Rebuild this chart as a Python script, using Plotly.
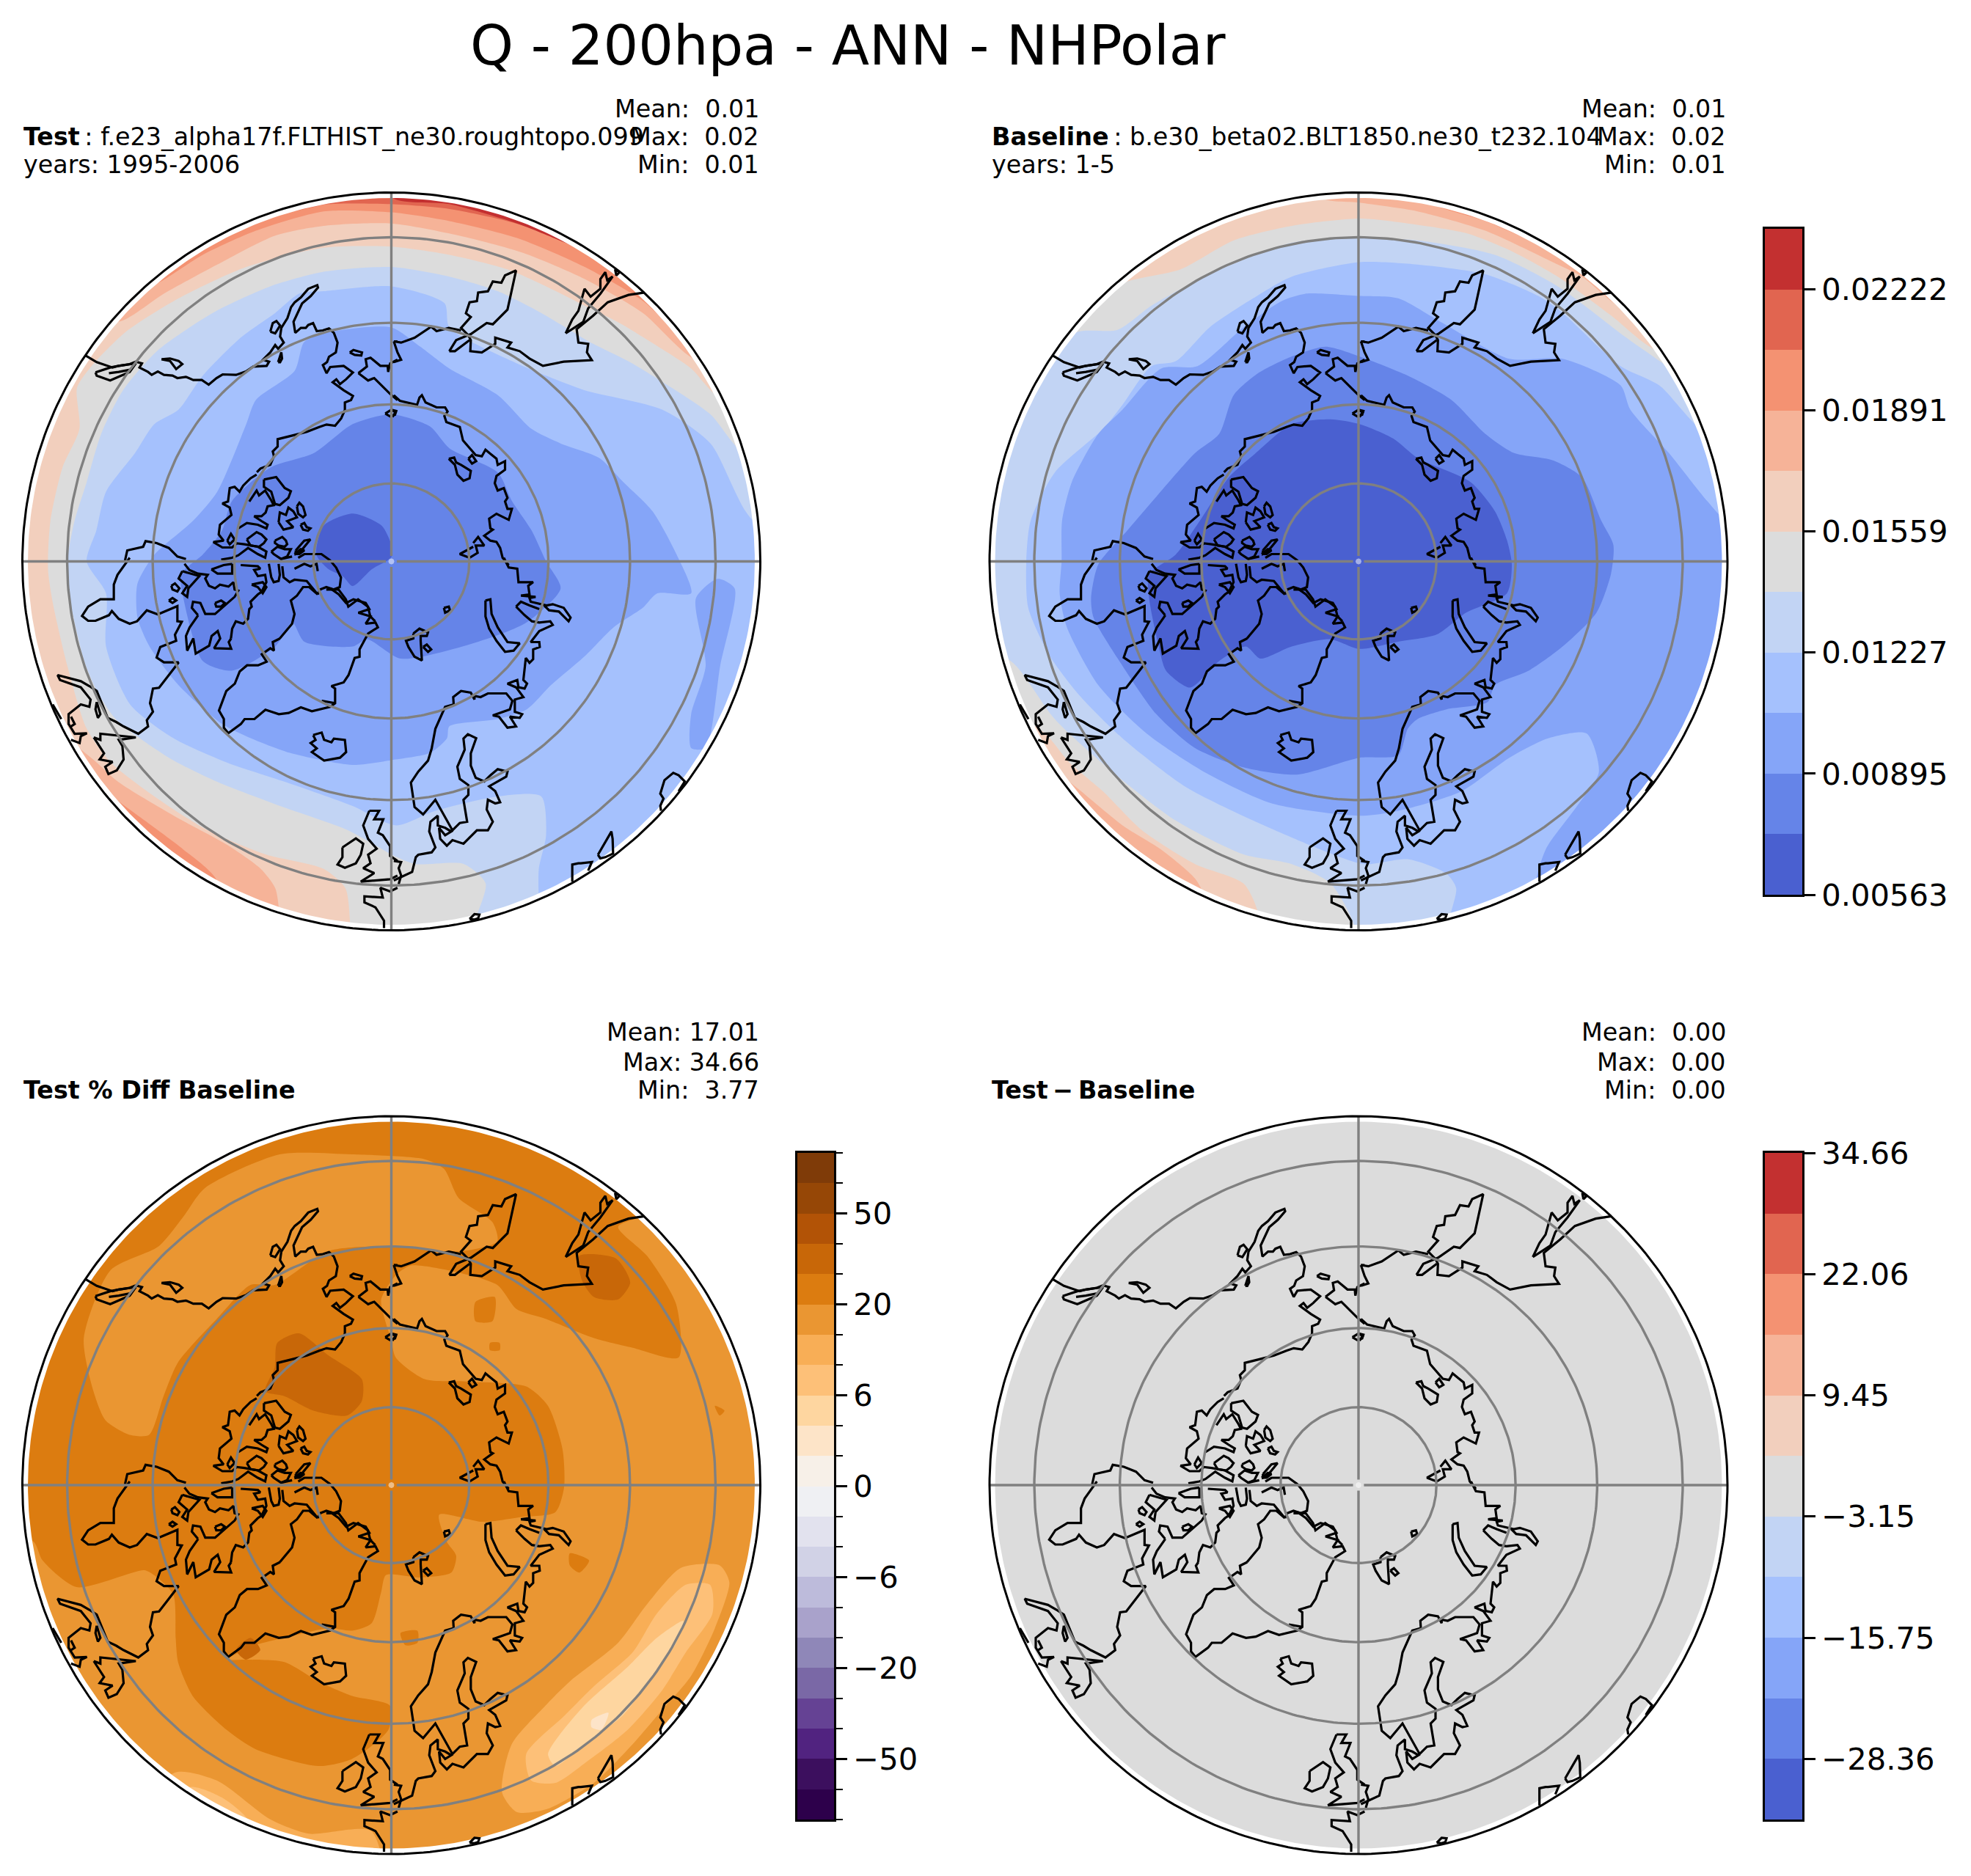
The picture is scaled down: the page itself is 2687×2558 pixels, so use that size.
import numpy as np
import plotly.graph_objects as go

W, H = 2687, 2558
TITLE = "Q - 200hpa - ANN - NHPolar"

# ---- colour bands (low to high) ----
COOLWARM = ["#4a60d0", "#6584e8", "#85a5f8", "#a5c1fd", "#c2d4f4", "#dcdcdc",
            "#f2cfbd", "#f6b398", "#f49272", "#e16550", "#c33030"]
PUOR = ["#2d004b", "#3c0f5e", "#512380", "#654294", "#7a68a6", "#8f87b8", "#a9a2cb",
        "#bdbbdb", "#d1d2e6", "#e2e2ee", "#eff0f3", "#f7f0e8", "#fde4c8", "#fed6a0",
        "#fdc078", "#f8ae56", "#ea9632", "#dc7c10", "#c86708", "#b25306", "#964706", "#7f3b08"]
Q_TICK_POS = [0, 2, 4, 6, 8, 10]
Q_TICK_TXT = ["0.00563", "0.00895", "0.01227", "0.01559", "0.01891", "0.02222"]
PCT_TICK_POS = [2, 5, 8, 11, 14, 17, 20]
PCT_TICK_TXT = ["\u221250", "\u221220", "\u22126", "0", "6", "20", "50"]
DIFF_TICK_POS = [1, 3, 5, 7, 9, 11]
DIFF_TICK_TXT = ["\u221228.36", "\u221215.75", "\u22123.15", "9.45", "22.06", "34.66"]

# ---- latitude rings and meridians of the map ----
RING_LATS = [80, 70, 60, 50]
EDGE_LAT = 45
POLE_GAP_LAT = 89.3

# ---- contour outlines, digitised (col, row) on a map whose pole is at FRAME_* ----
FRAME_TEST = (780, 784, 763)
T6 = [(1460,445),(1400,385),(1340,345),(1250,290),(1180,255),(1100,215),(1020,180),(900,150),(780,133),(640,135),(480,175),(340,240),(230,310),(160,380),(130,425),(135,510),(100,590),(75,700),(70,800),(80,870),(110,1000),(150,1130),(200,1200),(290,1270),(400,1340),(520,1390),(640,1420),(685,1460),(695,1535),(700,1650),(-100,1650),(-100,-100),(1650,-100),(1650,445)]
T7a = [(1415,370),(1300,270),(1180,200),(1050,145),(920,110),(780,85),(640,90),(540,110),(420,170),(310,230),(215,288),(150,250),(150,-100),(1650,-100),(1650,370)]
T7b = [(100,1150),(165,1195),(215,1240),(330,1310),(440,1370),(510,1420),(540,1460),(548,1510),(548,1650),(-100,1650),(-100,1150)]
T8a = [(1400,330),(1300,245),(1180,175),(1040,115),(900,80),(780,62),(640,60),(500,100),(390,150),(300,207),(200,250),(200,-100),(1650,-100),(1650,330)]
T8b = [(150,1220),(190,1260),(270,1320),(350,1380),(420,1445),(440,1650),(-100,1650),(-100,1220)]
T9 = [(1330,230),(1250,190),(1130,115),(1020,80),(900,55),(780,45),(650,45),(560,60),(500,20),(500,-100),(1650,-100),(1650,230)]
T10 = [(1245,170),(1140,125),(1040,85),(900,45),(780,30),(780,-100),(1650,-100),(1650,170)]
T4 = [(1510,560),(1440,480),(1360,425),(1270,370),(1190,330),(1090,270),(1000,225),(900,195),(780,175),(640,185),(530,215),(420,265),(300,345),(225,430),(180,520),(150,620),(125,700),(110,784),(115,860),(145,990),(170,1050),(210,1110),(320,1190),(420,1240),(550,1290),(690,1340),(790,1395),(830,1410),(930,1410),(975,1450),(950,1540),(950,1650),(1650,1650),(1650,560)]
T3 = [(1650,700),(1530,700),(1440,540),(1340,470),(1180,430),(1100,400),(1030,370),(900,300),(890,250),(780,215),(640,225),(590,230),(540,270),(470,320),(390,400),(340,470),(290,500),(250,560),(190,640),(170,720),(150,784),(190,850),(190,960),(240,1080),(330,1150),(440,1200),(560,1240),(700,1290),(790,1330),(870,1300),(1000,1270),(1090,1270),(1100,1350),(1085,1420),(1085,1500),(1085,1650),(1650,1650)]
T2 = [(780,300),(840,340),(900,385),(1000,440),(1070,510),(1130,540),(1210,570),(1260,620),(1320,680),(1370,770),(1400,850),(1330,850),(1300,880),(1240,920),(1180,980),(1110,1040),(1060,1090),(1000,1110),(900,1125),(895,1150),(860,1180),(780,1195),(700,1205),(570,1180),(490,1150),(430,1120),(340,1040),(280,960),(255,900),(255,830),(290,770),(370,700),(420,640),(480,500),(500,450),(580,390),(600,330),(650,310)]
T2b = [(1410,860),(1455,820),(1490,840),(1460,1000),(1430,1170),(1400,1170),(1400,1100),(1430,1000)]
T1 = [(780,480),(860,505),(900,550),(1000,600),(1030,660),(1070,720),(1100,784),(1130,840),(1060,910),(960,950),(800,985),(730,945),(700,960),(600,950),(575,910),(540,960),(450,1010),(390,990),(350,860),(345,810),(390,770),(430,720),(450,660),(530,590),(620,560),(700,500)]
T0 = [(640,710),(700,685),(760,710),(780,750),(780,775),(740,800),(700,835),(680,815),(650,800),(625,770)]
TEST_LAYERS = [(6,T6),(7,T7a),(7,T7b),(8,T8a),(8,T8b),(9,T9),(10,T10),(4,T4),(3,T3),(2,T2),(2,T2b),(1,T1),(0,T0)]

FRAME_BASE = (778, 784, 763)
B6a = [(1400,350),(1300,275),(1190,195),(1090,140),(1000,105),(880,85),(780,75),(640,90),(520,120),(410,180),(300,205),(200,250),(200,-100),(1650,-100),(1650,350)]
B6b = [(60,1100),(130,1140),(180,1200),(250,1260),(330,1340),(440,1410),(540,1450),(570,1510),(570,1650),(-100,1650),(-100,1100)]
B7a = [(1340,270),(1240,195),(1180,165),(1040,100),(900,60),(780,42),(700,30),(700,-100),(1650,-100),(1650,270)]
B7b = [(120,1200),(180,1240),(290,1330),(370,1380),(440,1440),(460,1480),(460,1650),(-100,1650),(-100,1200)]
B8 = [(930,45),(1040,80),(1150,125),(1200,130),(1040,40)]
B4 = [(1485,480),(1450,410),(1330,320),(1190,215),(1060,150),(900,120),(780,115),(640,125),(470,190),(350,255),(280,305),(195,310),(100,400),(-50,700),(-50,900),(70,1000),(150,1110),(270,1220),(400,1320),(540,1390),(640,1410),(720,1450),(770,1540),(770,1650),(1650,1650),(1650,480)]
B3 = [(1650,520),(1500,520),(1400,420),(1320,380),(1200,270),(1150,235),(1040,190),(900,170),(780,165),(640,195),(560,240),(470,300),(400,370),(350,380),(290,460),(250,510),(150,600),(100,700),(91,784),(95,880),(140,980),(200,1060),(290,1150),(420,1250),(560,1320),(700,1380),(790,1410),(880,1400),(960,1430),(980,1460),(965,1530),(965,1650),(1650,1650)]
B2 = [(1650,700),(1540,700),(1500,660),(1420,560),(1340,470),(1320,420),(1200,365),(1090,365),(950,290),(860,240),(780,235),(670,230),(620,245),(540,300),(445,380),(370,385),(290,470),(240,520),(185,620),(165,700),(164,784),(160,850),(175,920),(240,1040),(340,1140),(460,1220),(600,1285),(780,1310),(860,1300),(990,1260),(1090,1190),(1170,1150),(1250,1140),(1275,1220),(1230,1290),(1165,1380),(1140,1470),(1140,1650),(1650,1650)]
B1 = [(780,360),(880,400),(970,450),(1040,520),(1100,560),(1180,575),(1240,610),(1280,700),(1305,750),(1300,810),(1270,890),(1200,960),(1130,1010),(1060,1040),(1045,1075),(960,1090),(900,1110),(880,1130),(860,1185),(780,1190),(650,1225),(540,1210),(440,1170),(360,1100),(290,1000),(230,900),(225,860),(240,790),(300,720),(360,650),(440,560),(490,520),(520,440),(570,395),(640,360),(710,340)]
B0 = [(780,500),(850,530),(900,570),(1010,620),(1060,680),(1085,740),(1095,790),(1085,850),(1000,890),(940,935),(860,950),(780,965),(720,945),(640,960),(575,985),(545,960),(490,990),(430,1045),(380,1010),(365,960),(345,860),(345,810),(400,770),(450,700),(510,610),(560,565),(640,500),(720,490)]
BASE_LAYERS = [(6,B6a),(6,B6b),(7,B7a),(7,B7b),(8,B8),(4,B4),(3,B3),(2,B2),(1,B1),(0,B0)]

FRAME_PCT = (781, 784, 763)
PCT_BASE_BAND = 17
PA = [(145,480),(200,340),(300,290),(350,230),(395,170),(550,100),(700,100),(850,110),(890,130),(920,190),(990,240),(1000,280),(930,300),(880,300),(780,290),(650,300),(540,370),(490,370),(420,440),(340,530),(310,600),(280,680),(240,680),(190,650),(165,590)]
PB = [(780,480),(790,520),(850,565),(940,570),(1060,580),(1105,620),(1135,710),(1138,790),(1120,840),(1050,850),(970,860),(880,845),(895,900),(915,930),(905,965),(840,975),(770,970),(760,1005),(740,1070),(700,1085),(650,1080),(560,1100),(500,1115),(440,1145),(480,1145),(560,1150),(630,1190),(700,1220),(778,1240),(775,1290),(700,1350),(630,1365),(500,1330),(440,1290),(370,1220),(340,1150),(335,1100),(330,1010),(290,970),(270,960),(130,995),(60,940),(40,900),(-50,900),(-50,1650),(1650,1650),(1650,100),(1310,225),(1250,250),(1310,310),(1370,410),(1375,520),(1280,500),(1200,480),(1100,440),(1040,420),(1000,370),(900,340),(820,330),(790,350),(760,400),(770,450)]
PC1 = [(545,490),(590,470),(650,515),(720,565),(720,610),(690,640),(620,630),(560,600),(520,590),(540,540)]
PC2 = [(1170,310),(1245,315),(1275,365),(1250,400),(1200,395),(1175,360)]
PC3 = [(460,1125),(490,1100),(510,1125),(480,1145)]
PD1 = [(1150,925),(1190,940),(1170,965),(1150,950)]
PD2 = [(955,405),(995,395),(990,445),(955,445)]
PD3 = [(985,490),(1005,490),(1005,505),(985,505)]
PD4 = [(1450,620),(1470,630),(1460,640)]
PD5 = [(800,1090),(835,1085),(835,1110),(810,1115)]
PL1 = [(1030,1320),(1100,1240),(1150,1190),(1250,1110),(1310,1030),(1380,955),(1460,950),(1480,985),(1450,1080),(1400,1180),(1340,1250),(1280,1320),(1200,1400),(1100,1455),(1040,1460),(1010,1420)]
PL2 = [(1060,1340),(1140,1260),(1200,1200),(1280,1130),(1330,1050),(1390,990),(1440,990),(1445,1050),(1390,1130),(1340,1210),(1270,1290),(1180,1360),(1120,1400),(1070,1395)]
PL3 = [(1105,1340),(1180,1240),(1270,1160),(1330,1100),(1385,1065),(1370,1110),(1320,1180),(1260,1260),(1180,1320),(1120,1365)]
PL4 = [(1195,1270),(1230,1255),(1215,1290),(1195,1285)]
PL5 = [(330,1380),(420,1395),(530,1475),(610,1505),(740,1500),(760,1650),(200,1650)]
PL6 = [(360,1410),(430,1430),(490,1485),(480,1650),(300,1650)]
PCT_LAYERS = [(16,PA),(16,PB),(18,PC1),(18,PC2),(18,PC3),(17,PD1),(17,PD2),(17,PD3),(17,PD4),(17,PD5),
              (15,PL1),(14,PL2),(13,PL3),(12,PL4),(15,PL5),(14,PL6)]

# ---- coastlines, digitised per map quadrant: (pole col, pole row, edge radius) ----
COAST_R = 1509
FRAME_NW = (1535, 1545)
FRAME_NE = (5, 1545)
FRAME_SW = (1535, 15)
FRAME_SE = (5, 15)
FRAME_MID = (876, 375)

COAST_NW = [
 [(285,703),(330,730),(395,752),(420,745),(465,738),(490,728),(515,735),(505,752),(540,770),(555,782),(580,768),(605,782),(640,785),(660,795),(695,790),(725,803),(760,803),(788,822),(820,795),(845,780),(900,782),(940,768),(970,748),(1025,745),(1035,728),(1010,720),(1040,690),(1060,660),(1072,675),(1095,650),(1080,625),(1085,590),(1110,550),(1125,505),(1140,485),(1165,465),(1195,430),(1232,415),(1235,425),(1205,460),(1170,490),(1150,530),(1135,565),(1142,610),(1165,590),(1185,590),(1195,578),(1215,570),(1230,603),(1255,600),(1280,592),(1300,610),(1315,650),(1308,690),(1280,708),(1272,730),(1255,742),(1270,775),(1285,750),(1340,745),(1378,772),(1350,800),(1325,820),(1310,800),(1295,812),(1340,845),(1378,868),(1370,885),(1345,895),(1345,925),(1330,960),(1305,990),(1270,985),(1240,995),(1190,1015),(1130,1030),(1070,1045),(1070,1075),(1050,1095),(1055,1115),(1040,1150),(1000,1165),(985,1180)],
 [(1040,605),(1050,570),(1065,562),(1080,580),(1060,612),(1040,605)],
 [(595,718),(630,715),(665,725),(680,738),(655,758),(630,725),(595,718)],
 [(1072,730),(1085,690),(1088,715),(1080,730),(1072,730)],
 [(1365,690),(1380,680),(1415,690),(1412,703),(1385,700),(1365,690)],
 [(1400,775),(1435,748),(1430,718),(1450,712),(1490,745),(1520,745),(1522,770),(1530,735),(1560,720)],
 [(1400,775),(1440,805),(1465,795),(1530,860),(1560,885)],
 [(1545,645),(1560,645)],
 [(1510,940),(1535,925),(1555,930),(1550,945),(1530,952),(1510,940)],
 [(325,772),(385,752),(420,745),(490,735),(465,770),(420,790),(385,805),(330,785),(325,772)],
 [(380,775),(420,770),(470,760)],
 [(445,1545),(455,1500),(520,1485),(530,1462),(575,1470),(625,1490),(660,1525),(695,1535)],
]
COAST_NE = [
 [(15,645),(45,650),(100,630),(168,585),(190,603),(240,590),(290,600)],
 [(15,645),(30,690),(45,720),(15,730)],
 [(242,685),(270,640),(330,615),(395,570),(420,575),(480,515),(490,470),(515,355),(470,375),(455,405),(420,400),(400,440),(360,445),(355,480),(325,485),(310,530),(330,545),(290,590),(320,620),(330,640),(328,685),(375,690),(430,655),(430,630),(495,650),(480,670),(530,685),(570,715),(625,745),(710,728),(825,722),(805,690),(810,655),(770,650),(763,595),(830,540),(890,485),(975,455),(1040,445)],
 [(242,685),(265,685),(325,640)],
 [(718,612),(745,555),(770,520),(795,430),(820,462),(860,430),(860,390),(880,362),(888,395),(910,380),(860,450),(810,510),(790,565),(735,600),(718,612)],
 [(920,350),(938,362),(925,375),(920,350)],
 [(15,865),(40,888),(110,905),(120,875),(130,865),(145,895),(190,915),(225,915),(235,932),(222,950),(230,975),(285,995),(298,1050),(350,1110),(375,1115),(390,1088),(410,1105),(435,1125),(440,1150),(470,1135),(470,1170),(435,1195),(428,1225),(440,1255),(465,1245),(480,1285),(470,1300),(480,1330),(498,1330),(485,1375),(435,1350),(405,1370),(410,1410),(420,1415),(385,1440),(410,1460),(435,1465),(450,1490),(460,1530),(485,1560)],
 [(240,1125),(262,1120),(270,1140),(290,1150),(330,1175),(325,1205),(300,1215),(275,1190),(265,1150),(240,1125)],
 [(320,1125),(335,1110),(352,1135),(335,1145),(320,1125)],
 [(340,1470),(360,1445),(385,1480),(350,1480),(358,1510),(325,1530),(285,1515),(340,1485)],
 [(5,925),(22,935),(12,950),(5,945)],
]
COAST_SW = [
 [(465,0),(415,70),(400,110),(400,170),(345,170),(295,200),(270,238),(295,258),(325,258),(380,235),(392,218),(420,250),(465,270),(495,260),(535,215),(580,232),(660,198),(660,260),(678,262),(650,315),(655,340),(590,365),(583,385),(575,408),(605,428),(665,428),(585,532),(560,535),(548,595),(560,630),(535,665),(540,690),(500,720),(440,690),(410,672),(375,655),(330,545),(300,525),(265,505),(170,480),(180,500),(265,530),(305,580),(300,610),(265,600),(215,640),(215,680),(240,720),(290,718),(265,730),(260,758),(225,745)],
 [(330,590),(345,640),(335,655),(325,620),(330,590)],
 [(150,600),(185,660)],
 [(225,650),(240,680),(225,690)],
 [(318,735),(345,745),(345,720),(420,728),(490,735),(420,745),(435,770),(440,825),(412,870),(378,885),(365,855),(395,835),(342,825),(360,800),(318,735)],
 [(680,55),(750,75),(705,125),(700,160),(680,145),(700,115),(665,85),(680,55)],
 [(635,115),(650,105),(668,125),(660,138),(640,130),(635,115)],
 [(625,175),(640,165),(655,175),(640,185),(625,175)],
 [(880,330),(870,345),(880,372),(810,370),(835,330),(825,300),(800,320),(790,360),(735,392),(725,330),(700,380),(695,320),(710,285),(745,235)],
 [(1080,330),(1050,345),(1055,380),(1040,370),(1005,395),(1025,425),(990,440),(945,440),(915,465),(895,515),(860,545),(830,625),(850,660),(850,695),(868,718),(920,680),(935,660),(975,660),(1020,622),(1075,640),(1115,635),(1165,612),(1210,628),(1285,610),(1305,595),(1305,535),(1290,525),(1340,510),(1360,480),(1385,410),(1405,405),(1405,375),(1440,310),(1480,285),(1470,265),(1430,270),(1450,240),(1400,225),(1445,210),(1430,185),(1380,170),(1350,185),(1320,150),(1285,125)],
 [(1250,585),(1280,590),(1305,595)],
 [(1215,725),(1250,715),(1260,745),(1290,755),(1300,740),(1345,745),(1350,795),(1325,818),(1260,830),(1210,795),(1230,780),(1205,758),(1225,745),(1215,725)],
 [(1335,1185),(1390,1148),(1420,1170),(1410,1215),(1390,1250),(1345,1268),(1315,1255),(1335,1225),(1335,1185)],
 [(1445,1035),(1485,1035),(1465,1070),(1502,1070),(1490,1100),(1480,1125),(1500,1135),(1530,1180),(1530,1220),(1560,1240)],
 [(1445,1035),(1420,1095),(1440,1150),(1475,1190),(1440,1215),(1450,1250),(1420,1270),(1465,1290),(1410,1325),(1465,1320),(1530,1315),(1560,1300)],
 [(1560,1350),(1530,1365),(1490,1350),(1500,1390),(1425,1385),(1425,1410),(1470,1430),(1505,1485),(1505,1515)],
]
COAST_SE = [
 [(465,0),(485,40),(520,45),(525,100),(585,100),(565,115),(570,150),(535,155),(595,160),(570,165),(575,180),(640,195),(665,190),(710,205),(738,245),(730,260),(690,220),(650,215),(630,195)],
 [(515,200),(535,180),(570,195),(610,210)],
 [(515,200),(550,235),(580,260),(610,265),(655,260),(665,275),(610,300),(575,345),(610,345),(612,365),(585,375),(585,415),(570,430),(555,410),(545,500),(560,515),(550,535),(525,530),(520,500),(480,515),(515,530),(545,570),(510,580),(510,630),(540,640),(530,655),(490,650),(515,690),(480,695),(445,650),(420,645),(490,620),(500,585),(475,555),(400,555),(370,570),(345,565),(345,580),(330,552),(290,545),(258,570),(260,600),(225,610),(185,700),(170,780),(155,830),(115,875),(85,920),(100,1020),(135,1050),(185,990),(255,1115),(285,1085),(315,1080),(300,990),(320,970),(320,930),(285,905),(275,855),(305,785),(300,740),(318,722),(352,738),(330,800),(330,850),(350,900),(385,915),(410,890),(440,865),(480,875),(475,895),(405,935),(430,955),(450,1000),(430,1005),(400,990),(395,1030),(420,1080),(400,1115),(355,1115),(300,1170),(255,1155),(232,1178),(205,1150),(200,1105),(225,1135),(250,1120),(225,1105),(195,1095),(195,1055),(165,1080),(160,1120),(185,1185),(170,1205),(115,1215),(105,1225),(90,1285),(35,1310),(15,1320)],
 [(15,1240),(45,1245),(35,1270),(45,1300),(35,1335)],
 [(390,175),(410,170),(415,230),(440,285),(480,345),(530,350),(505,380),(470,385),(435,340),(405,290),(390,240),(390,175)],
 [(95,310),(120,290),(155,305),(150,320),(125,320),(125,340),(130,420),(100,405),(75,365),(65,340),(95,330),(95,310)],
 [(135,365),(150,355),(168,375),(155,385),(135,365)],
 [(220,205),(240,200),(245,215),(225,225),(220,205)],
 [(1108,1035),(1105,1015),(1118,985),(1105,965),(1122,910),(1158,880),(1180,890),(1205,915),(1180,955)],
 [(745,1325),(745,1255),(770,1250),(780,1250),(825,1245),(810,1280)],
 [(850,1215),(880,1165),(905,1120),(910,1150),(912,1210),(880,1225),(860,1230),(850,1215)],
 [(325,1478),(345,1458),(365,1460),(360,1475),(345,1480),(325,1478)],
]
COAST_MID = [
 [(325,20),(300,35),(270,65),(255,90),(235,70),(215,75),(208,130),(185,138),(215,155),(222,185),(175,225),(170,265),(190,290),(148,296),(185,318),(225,318),(245,300)],
 [(205,290),(220,262),(235,285),(215,305),(205,290)],
 [(355,40),(405,30),(440,75),(465,88),(455,115),(420,145),(400,140),(385,90),(355,70),(355,40)],
 [(295,130),(325,85),(335,105),(360,85),(385,125),(395,145),(370,150),(362,175),(345,190),(315,190),(345,210),(370,225),(365,240),(330,225),(285,218),(250,240)],
 [(285,285),(325,255),(345,265),(365,285),(355,300),(335,315),(300,310),(285,285)],
 [(235,300),(275,305),(330,315),(365,335),(360,360),(330,345),(290,320),(250,350),(225,360),(180,368)],
 [(415,215),(420,175),(445,185),(455,155),(475,170),(490,195),(450,210),(475,235),(435,245),(415,215)],
 [(490,150),(500,135),(515,150),(525,185),(515,195),(495,180),(490,150)],
 [(505,225),(520,218),(530,235),(545,240),(535,250),(515,245),(505,225)],
 [(400,290),(430,275),(445,290),(450,305),(440,315),(415,310),(400,300),(400,290)],
 [(385,335),(410,315),(440,325),(465,325),(450,355),(425,365),(395,345),(385,335)],
 [(425,365),(470,355)],
 [(485,330),(520,290),(545,285),(525,310),(500,340),(485,345),(485,330)],
 [(480,345),(505,325),(520,330),(500,345),(480,345)],
 [(140,408),(190,390),(225,385)],
 [(140,408),(165,425),(225,425),(225,385)],
 [(30,385),(50,410),(85,425),(125,430),(115,445),(130,475),(155,485),(175,470),(210,478),(230,460),(235,490),(250,495),(235,520),(190,560),(155,590),(115,590),(95,545),(65,540),(60,565),(85,595)],
 [(155,545),(180,535),(195,545),(180,560),(160,560),(155,545)],
 [(260,390),(330,395),(340,405),(315,410),(330,435),(360,430),(365,460),(345,500),(330,510),(300,540),(305,560),(295,570),(290,610),(270,630),(240,620),(225,650),(220,690)],
 [(305,470),(350,460),(365,480),(350,505),(330,480),(305,470)],
 [(375,385),(385,440),(395,460),(415,455),(420,430),(415,385)],
 [(430,395),(435,440),(460,460),(480,450),(530,455),(575,510),(540,480),(515,480),(490,515),(465,535),(480,590),(470,630),(420,690)],
 [(495,360),(520,345),(550,345),(590,345),(625,370),(650,400),(670,440),(665,480),(640,490),(610,480),(585,490),(575,510)],
 [(610,490),(660,490),(690,530),(700,560),(740,530),(780,560),(790,600),(810,620)],
 [(480,405),(520,385),(545,395),(570,385),(575,415)],
]

# ---- panel placement in the page (pixels) ----
PANELS = {
    "test": (533.5, 765.5, 503),
    "base": (1852, 765.5, 503),
    "pct":  (533.5, 2025, 503),
    "diff": (1852, 2025, 503),
}
BARS = {
    "q":    (2406, 2457, 312, 1220),
    "pct":  (1087, 1137, 1572, 2481),
    "diff": (2406, 2457, 1572, 2481),
}
GREY, INK = "#808080", "#000000"
FONT = "DejaVu Sans"


def from_frame(points, cx, cy, r):
    return [(cxv - cx) / r for cxv, _ in points], [(cy - row) / r for _, row in points]


def join(chains, cx, cy, r):
    xs, ys = [], []
    for ch in chains:
        a, b = from_frame(ch, cx, cy, r)
        xs += a + [None]
        ys += b + [None]
    return xs, ys


coast_x, coast_y = [], []
for chains, fr in [(COAST_NW, FRAME_NW), (COAST_NE, FRAME_NE), (COAST_SW, FRAME_SW),
                   (COAST_SE, FRAME_SE), (COAST_MID, FRAME_MID)]:
    a, b = join(chains, fr[0], fr[1], COAST_R)
    coast_x += a
    coast_y += b


def radius(lat):
    return np.tan(np.radians(90 - lat) / 2) / np.tan(np.radians(90 - EDGE_LAT) / 2)


th = np.linspace(0, 2 * np.pi, 361)
grid_x, grid_y = [], []
for lat in RING_LATS:
    grid_x += list(radius(lat) * np.cos(th)) + [None]
    grid_y += list(radius(lat) * np.sin(th)) + [None]
rg = radius(POLE_GAP_LAT)
for dx, dy in [(1, 0), (-1, 0), (0, 1), (0, -1)]:
    grid_x += [dx * rg, dx, None]
    grid_y += [dy * rg, dy, None]

SPAN = 1.012
OUT = 1.2
FIELD_EDGE = 0.985
mask_x = [-OUT, OUT, OUT, -OUT, -OUT, -OUT] + list(FIELD_EDGE * np.cos(th[::-1] + np.pi))
mask_y = [-OUT, -OUT, OUT, OUT, -OUT, 0] + list(FIELD_EDGE * np.sin(th[::-1] + np.pi))
mask_x += [-OUT]
mask_y += [0]

fig = go.Figure()
layout = {}
frames_out = []


def scat(x, y, ax, **kw):
    fig.add_trace(go.Scatter(x=x, y=y, xaxis=f"x{ax}", yaxis=f"y{ax}", showlegend=False,
                             hoverinfo="skip", **kw))


def add_map(name, ax, base_colour, layers, frame, palette):
    cx, cy, r = PANELS[name]
    d = r * SPAN
    layout[f"xaxis{ax}"] = dict(domain=[(cx - d) / W, (cx + d) / W], range=[-SPAN, SPAN], visible=False,
                                fixedrange=True, anchor=f"y{ax}")
    layout[f"yaxis{ax}"] = dict(domain=[1 - (cy + d) / H, 1 - (cy - d) / H], range=[-SPAN, SPAN], visible=False,
                                fixedrange=True, anchor=f"x{ax}")
    frames_out.append(dict(type="rect", xref="paper", yref="paper", layer="above",
                           x0=(cx - d) / W, x1=(cx + d) / W, y0=1 - (cy + d) / H, y1=1 - (cy - d) / H,
                           line=dict(color="#ffffff", width=6), fillcolor="rgba(0,0,0,0)"))
    scat([-OUT, OUT, OUT, -OUT, -OUT], [-OUT, -OUT, OUT, OUT, -OUT], ax,
         mode="lines", fill="toself", fillcolor=base_colour, line=dict(width=0))
    for band, pts in layers:
        fx, fy = from_frame(pts, frame[0], frame[1], frame[2])
        scat(fx + fx[:1], fy + fy[:1], ax, mode="lines", fill="toself", fillcolor=palette[band],
             line=dict(width=0, shape="spline", smoothing=0.7))
    scat(mask_x, mask_y, ax, mode="lines", fill="toself", fillcolor="#ffffff", line=dict(width=0))
    tt = np.linspace(0, 2 * np.pi, 40)
    scat(list(0.008 * np.cos(tt)), list(0.008 * np.sin(tt)), ax, mode="lines", fill="toself",
         fillcolor="rgba(255,255,255,0.5)", line=dict(width=0))
    scat(coast_x, coast_y, ax, mode="lines", line=dict(color=INK, width=3.2))
    scat(grid_x, grid_y, ax, mode="lines", line=dict(color=GREY, width=3.4))
    scat(list(np.cos(th)), list(np.sin(th)), ax, mode="lines", line=dict(color=INK, width=3), cliponaxis=False)


def add_bar(name, ax, palette, ticks, labels, minor=None):
    x0, x1, y0, y1 = BARS[name]
    n = len(palette)
    scale = []
    for i, c in enumerate(palette):
        scale += [[i / n, c], [(i + 1) / n, c]]
    fig.add_trace(go.Heatmap(z=[[i + 0.5] for i in range(n)], x=[0, 1], y=list(range(n + 1)),
                             xaxis=f"x{ax}", yaxis=f"y{ax}", zmin=0, zmax=n, colorscale=scale,
                             showscale=False, hoverinfo="skip"))
    layout[f"xaxis{ax}"] = dict(domain=[x0 / W, x1 / W], range=[0, 1], showticklabels=False, ticks="",
                                anchor=f"y{ax}", showgrid=False, zeroline=False, showline=True, mirror=True,
                                linecolor=INK, linewidth=3, fixedrange=True)
    yax = dict(domain=[1 - y1 / H, 1 - y0 / H], range=[0, n], side="right", anchor=f"x{ax}",
               tickmode="array", tickvals=ticks, ticktext=labels, ticks="outside", ticklen=15,
               tickwidth=2.6, tickcolor=INK, tickfont=dict(family=FONT, size=41.67, color=INK),
               showgrid=False, zeroline=False, showline=True, mirror=True, linecolor=INK,
               linewidth=3, fixedrange=True)
    if minor:
        yax["minor"] = dict(tickmode="array", tickvals=minor, ticks="outside", ticklen=9,
                            tickwidth=2.2, tickcolor=INK, showgrid=False)
    layout[f"yaxis{ax}"] = yax


add_map("test", 1, COOLWARM[5], TEST_LAYERS, FRAME_TEST, COOLWARM)
add_map("base", 2, COOLWARM[5], BASE_LAYERS, FRAME_BASE, COOLWARM)
add_map("pct", 3, PUOR[PCT_BASE_BAND], PCT_LAYERS, FRAME_PCT, PUOR)
add_map("diff", 4, COOLWARM[5], [], FRAME_TEST, COOLWARM)
add_bar("q", 5, COOLWARM, Q_TICK_POS, Q_TICK_TXT)
add_bar("pct", 6, PUOR, PCT_TICK_POS, PCT_TICK_TXT,
        minor=[i for i in range(len(PUOR) + 1) if i not in PCT_TICK_POS])
add_bar("diff", 7, COOLWARM, DIFF_TICK_POS, DIFF_TICK_TXT)

NB = "\u00a0"
THIN = "\u2009"
notes = []


def note(text, px, py, size=33.33, anchor="left"):
    notes.append(dict(text=text, x=px / W, y=1 - py / H, xref="paper", yref="paper", showarrow=False,
                      xanchor=anchor, yanchor="middle", align=anchor,
                      font=dict(family=FONT, size=size, color=INK)))


note(TITLE, 1156, 62, size=75, anchor="center")
L_X, R_X, L2_X, R2_X = 30, 1037, 1350, 2355
note(f"<b>Test</b>{THIN}: f.e23_alpha17f.FLTHIST_ne30.roughtopo.099", L_X, 187)
note("years: 1995-2006", L_X, 225)
note(f"<b>Baseline</b>{THIN}: b.e30_beta02.BLT1850.ne30_t232.104", L2_X, 187)
note("years: 1-5", L2_X, 225)
note("<b>Test % Diff Baseline</b>", L_X, 1486)
note(f"<b>Test{THIN}\u2212{THIN}Baseline</b>", L2_X, 1486)
for xr, yr, vals in [(R_X, (148, 187, 225), ("0.01", "0.02", "0.01")),
                     (R2_X, (148, 187, 225), ("0.01", "0.02", "0.01")),
                     (R_X, (1408, 1448, 1486), ("17.01", "34.66", NB + "3.77")),
                     (R2_X, (1408, 1448, 1486), ("0.00", "0.00", "0.00"))]:
    for lab, py, v in zip(("Mean:", "Max:", "Min:"), yr, vals):
        gap = NB * 2 if len(v.replace(NB, "")) == 4 and NB not in v else NB
        note(f"{lab}{gap}{v}" if NB not in v else f"{lab}{NB}{v}", xr, py, anchor="right")

fig.update_layout(width=W, height=H, margin=dict(l=0, r=0, t=0, b=0, pad=0, autoexpand=False),
                  paper_bgcolor="#ffffff", plot_bgcolor="#ffffff", showlegend=False,
                  annotations=notes, shapes=frames_out, **layout)
fig.write_html("out.html", config={"displayModeBar": False},
               post_script="document.body.style.margin='0';document.body.style.overflow='hidden';")
